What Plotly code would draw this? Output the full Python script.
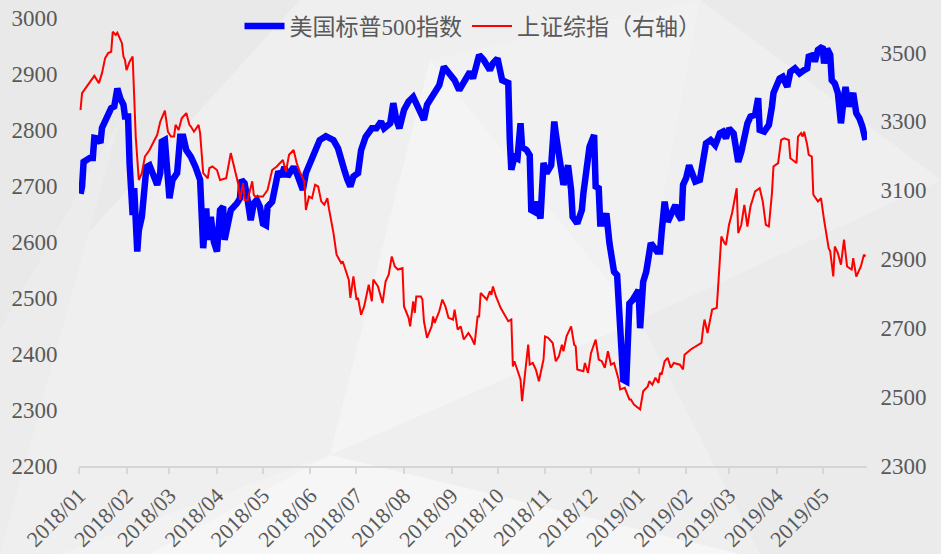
import pandas as pd
import plotly.graph_objects as go

# ---------------- data ----------------
# day offsets from 2018-01-01 and index levels
spx_day = [1, 2, 3, 7, 9, 10, 12, 14, 15, 18, 21, 23, 25, 27, 29, 30, 32, 33, 34, 35, 36, 38, 39, 41, 44, 46, 48, 51, 53, 54,
           56, 58, 59, 61, 64, 66, 68, 70, 73, 76, 78, 79, 81, 83, 84, 86, 88, 90, 92, 94, 95, 97, 99, 103, 105, 106, 108, 110, 112, 114,
           116, 118, 120, 122, 123, 126, 128, 130, 132, 134, 136, 140, 142, 144, 146, 148, 151, 154, 157, 161, 166, 169, 171, 173, 175, 177, 179, 182, 184, 187,
           191, 194, 197, 199, 203, 205, 207, 209, 212, 215, 218, 220, 222, 225, 227, 230, 232, 235, 238, 242, 245, 248, 251, 255, 257, 259, 261, 264, 268, 270,
           273, 276, 280, 281, 282, 284, 286, 288, 289, 292, 294, 295, 297, 298, 301, 303, 305, 308, 310, 311, 314, 316, 317, 319, 321, 322, 325, 328, 329, 331,
           333, 336, 337, 339, 340, 342, 344, 346, 349, 351, 353, 355, 357, 359, 361, 364, 365, 366, 368, 370, 372, 373, 377, 379, 380, 382, 384, 386, 389, 391,
           393, 394, 396, 398, 402, 405, 407, 408, 409, 412, 415, 418, 420, 422, 424, 427, 429, 430, 432, 434, 436, 438, 441, 443, 444, 447, 450, 452, 453, 457,
           459, 462, 464, 467, 470, 473, 475, 476, 479, 480, 482, 485, 486, 488, 490, 491, 493, 495, 497, 499, 500, 502, 505, 507, 509, 511, 513]
spx_val = [2686, 2699, 2743, 2750, 2750, 2786, 2785, 2777, 2804, 2824, 2839, 2842, 2874, 2856, 2845, 2824, 2824, 2740, 2657, 2648, 2696, 2583, 2621, 2645, 2734, 2737, 2723, 2702, 2723, 2779,
           2782, 2690, 2678, 2711, 2723, 2788, 2788, 2764, 2752, 2734, 2714, 2711, 2589, 2660, 2604, 2645, 2600, 2583, 2657, 2663, 2604, 2627, 2657, 2669, 2678, 2711, 2705, 2675, 2639, 2669,
           2675, 2663, 2633, 2630, 2663, 2672, 2705, 2726, 2717, 2734, 2717, 2734, 2723, 2708, 2693, 2723, 2743, 2764, 2782, 2789, 2782, 2767, 2752, 2729, 2712, 2699, 2717, 2723, 2764, 2788,
           2803, 2803, 2815, 2803, 2812, 2848, 2818, 2803, 2836, 2851, 2859, 2845, 2833, 2818, 2845, 2857, 2866, 2880, 2913, 2901, 2889, 2871, 2883, 2904, 2892, 2916, 2934, 2925, 2907, 2919,
           2928, 2889, 2884, 2782, 2729, 2752, 2749, 2812, 2770, 2764, 2755, 2657, 2654, 2672, 2642, 2741, 2723, 2737, 2815, 2794, 2729, 2702, 2711, 2737, 2693, 2645, 2633, 2657, 2687, 2743,
           2770, 2791, 2699, 2696, 2633, 2633, 2651, 2598, 2547, 2541, 2443, 2354, 2351, 2490, 2496, 2511, 2514, 2446, 2529, 2547, 2580, 2598, 2583, 2583, 2616, 2672, 2636, 2648, 2666, 2648,
           2639, 2702, 2714, 2737, 2708, 2711, 2743, 2749, 2776, 2782, 2773, 2794, 2797, 2785, 2803, 2794, 2758, 2743, 2761, 2791, 2812, 2824, 2827, 2857, 2800, 2797, 2809, 2842, 2866, 2892,
           2895, 2877, 2904, 2910, 2901, 2907, 2910, 2931, 2934, 2922, 2943, 2949, 2919, 2945, 2934, 2889, 2883, 2866, 2812, 2859, 2877, 2842, 2866, 2830, 2821, 2806, 2782]

sh_day = [1, 2, 5, 8, 10, 13, 15, 17, 19, 21, 22, 24, 25, 28, 29, 30, 31, 33, 35, 36, 37, 39, 41, 43, 46, 51, 53, 56, 58, 60,
          62, 63, 65, 67, 70, 72, 73, 75, 78, 79, 81, 84, 85, 87, 90, 92, 96, 99, 102, 104, 105, 107, 108, 110, 113, 114, 115, 120, 123, 126,
          129, 131, 133, 135, 137, 140, 142, 144, 147, 148, 150, 152, 154, 156, 158, 160, 162, 163, 166, 168, 171, 172, 174, 176, 177, 179, 181, 182, 184, 186,
          189, 191, 192, 195, 198, 200, 202, 204, 206, 208, 211, 212, 215, 216, 218, 219, 220, 223, 224, 225, 227, 230, 231, 232, 235, 237, 239, 241, 244, 245,
          247, 249, 251, 254, 256, 258, 260, 261, 262, 264, 266, 268, 269, 270, 272, 275, 279, 280, 282, 283, 284, 286, 288, 289, 291, 293, 294, 296, 298, 300,
          303, 304, 306, 309, 311, 313, 315, 316, 318, 321, 323, 324, 325, 329, 330, 332, 334, 337, 339, 341, 343, 345, 347, 349, 352, 353, 356, 359, 360, 362,
          366, 368, 371, 372, 374, 376, 378, 379, 380, 382, 384, 386, 388, 392, 394, 395, 399, 406, 407, 408, 410, 413, 416, 418, 419, 421, 422, 424, 426, 429,
          430, 432, 434, 436, 438, 441, 444, 446, 448, 450, 452, 453, 456, 458, 460, 463, 464, 467, 468, 469, 471, 472, 473, 475, 476, 478, 479, 482, 484, 486,
          489, 490, 492, 493, 495, 497, 499, 501, 504, 505, 507, 510, 512, 513]
sh_val = [3333, 3382, 3401, 3420, 3432, 3411, 3440, 3483, 3498, 3502, 3560, 3551, 3557, 3527, 3488, 3478, 3449, 3473, 3488, 3372, 3256, 3130, 3150, 3198, 3217, 3261, 3299, 3331, 3270, 3256,
          3256, 3290, 3275, 3309, 3324, 3290, 3285, 3270, 3290, 3266, 3150, 3135, 3164, 3169, 3159, 3130, 3135, 3208, 3154, 3116, 3072, 3121, 3072, 3072, 3126, 3087, 3082, 3082, 3101, 3159,
          3169, 3179, 3188, 3154, 3203, 3217, 3179, 3154, 3126, 3043, 3082, 3077, 3116, 3111, 3068, 3058, 3077, 3048, 2976, 2913, 2889, 2894, 2865, 2840, 2788, 2850, 2783, 2788, 2739, 2763,
          2826, 2778, 2841, 2821, 2773, 2836, 2855, 2908, 2879, 2870, 2874, 2763, 2730, 2705, 2778, 2744, 2792, 2792, 2783, 2720, 2672, 2705, 2734, 2715, 2749, 2783, 2763, 2730, 2725, 2754,
          2696, 2705, 2667, 2686, 2672, 2652, 2734, 2734, 2802, 2792, 2783, 2807, 2797, 2821, 2792, 2759, 2725, 2720, 2725, 2589, 2604, 2575, 2551, 2488, 2570, 2652, 2594, 2599, 2580, 2546,
          2609, 2676, 2672, 2657, 2604, 2618, 2652, 2633, 2676, 2705, 2652, 2647, 2580, 2575, 2599, 2570, 2628, 2667, 2609, 2604, 2585, 2633, 2594, 2599, 2551, 2522, 2527, 2493, 2493, 2478,
          2464, 2517, 2531, 2546, 2536, 2556, 2541, 2570, 2565, 2604, 2614, 2585, 2599, 2594, 2580, 2623, 2638, 2657, 2696, 2725, 2686, 2754, 2759, 2889, 2966, 2947, 2942, 3000, 3034, 3106,
          2976, 3000, 3058, 2995, 3053, 3097, 3106, 3068, 3000, 2995, 3092, 3169, 3179, 3246, 3251, 3246, 3193, 3183, 3179, 3256, 3266, 3256, 3270, 3232, 3203, 3198, 3087, 3068, 3077, 3014,
          2932, 2923, 2850, 2937, 2918, 2884, 2957, 2879, 2870, 2903, 2850, 2879, 2913, 2908]

spx_name = "美国标普500指数"
sh_name = "上证综指（右轴）"
x_start = "2018-01-01"
x_end = "2019-05-30"
left_range = [2200, 3000]
right_range = [2300, 3600]

base = pd.Timestamp(x_start)
spx_dates = base + pd.to_timedelta(spx_day, unit="D")
sh_dates = base + pd.to_timedelta(sh_day, unit="D")

# ---------------- figure ----------------
W, H = 941, 554
ML, MR, MT, MB = 79, 74, 18, 88
PW, PH = W - ML - MR, H - MT - MB

fig = go.Figure()
fig.add_trace(go.Scatter(x=spx_dates, y=spx_val, name=spx_name, mode="lines",
                         line=dict(color="#0000ff", width=6.5), yaxis="y"))
fig.add_trace(go.Scatter(x=sh_dates, y=sh_val, name=sh_name, mode="lines",
                         line=dict(color="#ff0000", width=2), yaxis="y2"))

# faint faceted background
def px_path(pts):
    s = ""
    for i, (px, py) in enumerate(pts):
        xx = (px - ML) / PW
        yy = (H - MB - py) / PH
        s += ("M" if i == 0 else "L") + f"{xx:.4f},{yy:.4f} "
    return s + "Z"

facets = [
    ([(0, 0), (300, 0), (0, 330)], "#e9e9e9"),
    ([(0, 330), (120, 120), (0, 554)], "#ececec"),
    ([(150, 554), (330, 455), (740, 554)], "#f6f6f6"),
    ([(330, 455), (430, 60), (640, 320)], "#f4f4f4"),
    ([(330, 455), (60, 554), (150, 554)], "#f2f2f2"),
    ([(640, 320), (941, 180), (941, 554), (760, 554)], "#ebebeb"),
    ([(700, 0), (941, 0), (941, 180)], "#eaeaea"),
    ([(430, 60), (700, 0), (640, 320)], "#f1f1f1"),
]
shapes = [dict(type="path", path=px_path(p), xref="paper", yref="paper",
               fillcolor=c, line=dict(width=0), layer="below") for p, c in facets]

tick_font = dict(family="Liberation Serif, Times New Roman, serif", size=23, color="#595959")

fig.update_layout(
    width=W, height=H,
    margin=dict(l=ML, r=MR, t=MT, b=MB, autoexpand=False),
    paper_bgcolor="#efefef", plot_bgcolor="rgba(0,0,0,0)",
    shapes=shapes,
    showlegend=True,
    legend=dict(orientation="h", x=0.5, xanchor="center", y=1.03, yanchor="top",
                bgcolor="rgba(0,0,0,0)",
                font=dict(family="Liberation Serif, Noto Sans CJK SC", size=23, color="#595959"),
                itemwidth=40),
    xaxis=dict(type="date", range=[x_start, x_end], dtick="M1", tick0="2018-01-01",
               tickformat="%Y/%m", tickangle=-45,
               tickfont=dict(family="Liberation Serif, Times New Roman, serif", size=22, color="#595959"),
               showline=True, linecolor="#d6d6d6", linewidth=2,
               ticks="outside", ticklen=6, tickcolor="#d6d6d6", tickwidth=1.5,
               showgrid=False, zeroline=False, automargin=False),
    yaxis=dict(range=left_range, dtick=100, tickfont=tick_font,
               showgrid=False, zeroline=False, showline=False,
               ticks="outside", ticklen=16, tickcolor="rgba(0,0,0,0)", automargin=False),
    yaxis2=dict(range=right_range, tick0=2300, dtick=200, overlaying="y", side="right",
                tickfont=tick_font, showgrid=False, zeroline=False, showline=False,
                ticks="outside", ticklen=8, tickcolor="rgba(0,0,0,0)", automargin=False),
)

fig.write_html("out.html", config={"displayModeBar": False},
               post_script="document.body.style.margin='0';document.body.style.background='#efefef';")
